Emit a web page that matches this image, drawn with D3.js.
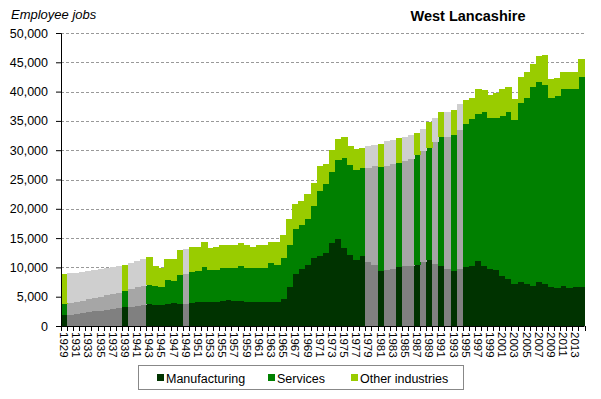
<!DOCTYPE html>
<html>
<head>
<meta charset="utf-8">
<script src="https://cdn.jsdelivr.net/npm/d3@7"></script>
<style>
  html, body { margin: 0; padding: 0; background: #fff; }
  svg { display: block; font-family: "Liberation Sans", Arial, sans-serif; }
</style>
</head>
<body>
<div id="chart"></div>
<script>
// years 1929..2014
const years = d3.range(1929, 2015);

// years drawn in grey (estimated / interpolated)
const estimatedYears = [1930,1931,1932,1933,1934,1935,1936,1937,1938,1940,1941,1942,1949,
  1979,1980,1982,1983,1985,1986,1988,1990,1992,1994];

const manufacturing = [
  1800,1940,2080,2220,2360,2500,2640,2780,2920,3060,
  3210,3320,3440,3560,3670,3500,3610,3790,3960,3700,
  3800,3900,4130,4130,4130,4130,4300,4470,4300,4300,
  4070,4070,4070,4070,4070,4070,4690,6620,8790,9760,
  10490,11570,12000,12400,14080,14930,13340,12090,11240,11920,
  10950,10380,9470,9640,9810,10040,10210,10210,10380,10840,
  11180,10610,10210,9810,9350,9810,10100,10320,11010,10320,
  9760,9520,8500,8050,7250,7540,7250,6910,7540,7250,
  6740,6400,6910,6400,6740,6740
];
const services = [
  1870,1960,2040,2130,2220,2300,2390,2480,2570,2650,
  2730,3030,3250,3350,3410,3410,3080,4030,3690,4920,
  4990,5300,5290,6020,5390,5390,5560,5510,5680,5970,
  5910,5790,5910,5910,6600,6370,6880,7120,7680,7510,
  7800,8990,11000,11750,12170,13480,15410,15300,15350,15010,
  16050,16890,17580,17700,17750,17740,18030,18370,18720,18990,
  19280,20760,21960,22480,23160,23720,24400,24920,25250,26280,
  25700,26060,27420,28550,27870,30430,31740,33910,34180,33900,
  32250,32930,33560,33960,33620,35790
];
const other = [
  5120,5060,5000,4930,4860,4800,4730,4660,4590,4530,
  4440,4370,4370,4490,4660,3410,3240,3650,3820,4430,
  4410,4200,3980,4150,3760,3990,3880,3760,3760,3810,
  3760,3650,3760,3870,3630,3860,3990,4550,4320,4090,
  4320,3880,4270,3580,3750,3420,3540,3410,3530,3530,
  3680,3700,4090,4200,4150,4220,3980,3930,3750,3820,
  4320,4160,4430,4310,4320,4270,4150,3700,4210,3640,
  3990,4100,4550,4220,3650,4560,4320,3950,4290,5040,
  3200,3030,2900,3010,3010,3030
];

const yTicks = d3.range(0, 50001, 5000);
const keys = ['manufacturing', 'services', 'other'];
const labels = ['Manufacturing', 'Services', 'Other industries'];
const colors = ['#003300', '#008000', '#99cc00'];
const greys = ['#808080', '#a6a6a6', '#cfcfcf'];

const W = 601, H = 399;
const svg = d3.select('#chart').append('svg').attr('width', W).attr('height', H);

const x = d3.scaleBand().domain(years).range([61, 584.5]).padding(0);
const y = d3.scaleLinear().domain([0, 50000]).range([326, 33]);

const table = years.map((yr, i) => ({
  year: yr, manufacturing: manufacturing[i], services: services[i], other: other[i]
}));
const series = d3.stack().keys(keys)(table);

// gridlines
svg.append('g').selectAll('line').data(yTicks.filter(d => d > 0)).join('line')
  .attr('x1', 61).attr('x2', 585)
  .attr('y1', d => Math.round(y(d)) + 0.5).attr('y2', d => Math.round(y(d)) + 0.5)
  .attr('stroke', '#999').attr('stroke-dasharray', '3,2');

// bars
svg.append('g').selectAll('g').data(series).join('g')
  .each(function(s, k){
    d3.select(this).selectAll('rect').data(s).join('rect')
      .attr('x', d => x(d.data.year))
      .attr('width', x.bandwidth() + 0.5)
      .attr('y', d => y(d[1]))
      .attr('height', d => y(d[0]) - y(d[1]))
      .attr('shape-rendering', 'crispEdges')
      .attr('fill', d => estimatedYears.includes(d.data.year) ? greys[k] : colors[k]);
  });

// y axis
const yAxis = svg.append('g').attr('transform', 'translate(61,0)')
  .call(d3.axisLeft(y).tickValues(yTicks).tickSize(5).tickPadding(8)
    .tickFormat(d3.format(',')));
yAxis.select('.domain').attr('stroke', '#000');
yAxis.selectAll('line').attr('stroke', '#000');
yAxis.selectAll('text').attr('font-size', 12.5).attr('fill', '#000')
  .attr('font-family', '"Liberation Sans", Arial, sans-serif');

// x axis
const xg = svg.append('g');
xg.append('line').attr('x1', 61).attr('x2', 584.5).attr('y1', 326.5).attr('y2', 326.5)
  .attr('stroke', '#000');
xg.selectAll('line.tk').data(years.concat([null])).join('line').attr('class', 'tk')
  .attr('x1', (d, i) => Math.round(61 + i * x.step()) + 0.5)
  .attr('x2', (d, i) => Math.round(61 + i * x.step()) + 0.5)
  .attr('y1', 326).attr('y2', 331).attr('stroke', '#000');
xg.selectAll('text').data(years.filter((d, i) => i % 2 === 0)).join('text')
  .attr('transform', d => `translate(${x(d) + x.bandwidth() / 2},332) rotate(90)`)
  .attr('dy', '0.35em')
  .attr('font-size', 11.5)
  .attr('fill', '#000')
  .text(d => d);

// titles
svg.append('text').attr('x', 11).attr('y', 19).attr('font-size', 13)
  .attr('font-style', 'italic').text('Employee jobs');
svg.append('text').attr('x', 468).attr('y', 21).attr('text-anchor', 'middle')
  .attr('font-size', 14.5).attr('font-weight', 'bold').text('West Lancashire');

// legend
const lg = svg.append('g');
lg.append('rect').attr('x', 138.5).attr('y', 365.5).attr('width', 325).attr('height', 24)
  .attr('fill', '#fff').attr('stroke', '#888');
const lx = [157, 268, 351];
keys.forEach((k, i) => {
  lg.append('rect').attr('x', lx[i]).attr('y', 374).attr('width', 7).attr('height', 7)
    .attr('fill', colors[i]);
  lg.append('text').attr('x', lx[i] + 9).attr('y', 382.5).attr('font-size', 12.5)
    .text(labels[i]);
});
</script>
</body>
</html>
